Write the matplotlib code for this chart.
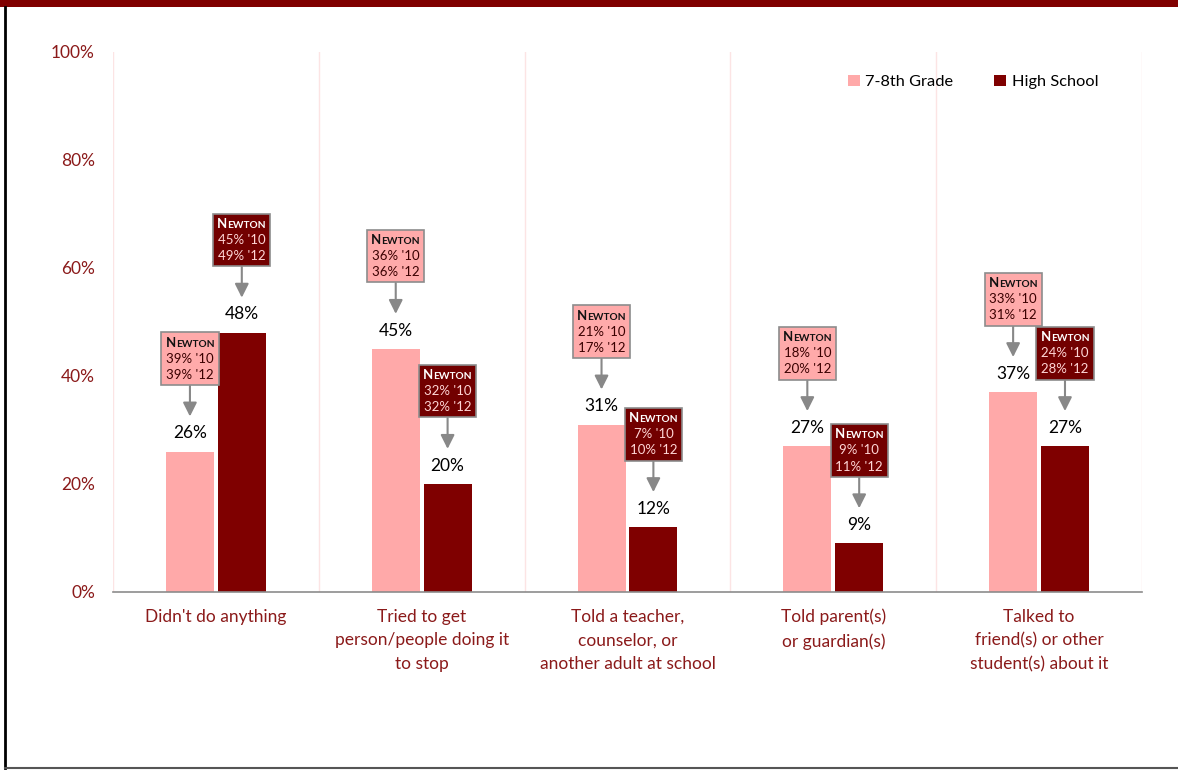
import matplotlib
matplotlib.use("Agg")
import numpy as np
import matplotlib.pyplot as plt
from matplotlib.patches import Patch, Rectangle
from matplotlib.lines import Line2D
from matplotlib.offsetbox import TextArea, HPacker, VPacker, AnnotationBbox

plt.rcParams['font.family'] = ['Lato', 'DejaVu Sans']

# Survey responses (% of students)
categories = [
    "Didn't do anything",
    "Tried to get\nperson/people doing it\nto stop",
    "Told a teacher,\ncounselor, or\nanother adult at school",
    "Told parent(s)\nor guardian(s)",
    "Talked to\nfriend(s) or other\nstudent(s) about it",
]
grade78 = [26, 45, 31, 27, 37]
high_school = [48, 20, 12, 9, 27]

# Newton comparison figures, 2010 and 2012
newton78_10 = [39, 36, 21, 18, 33]
newton78_12 = [39, 36, 17, 20, 31]
newtonhs_10 = [45, 32, 7, 9, 24]
newtonhs_12 = [49, 32, 10, 11, 28]

PINK = '#FFA9A9'
DARK = '#7F0000'
LABEL_RED = '#8B1A1A'

fig = plt.figure(figsize=(11.78, 7.70), dpi=100)
ax = fig.add_axes([0.0959, 0.2312, 0.8735, 0.7013])

x = np.arange(len(categories))
w = 0.233
off = 0.126
ax.bar(x - off, grade78, w, color=PINK, label='7-8th Grade', zorder=2)
ax.bar(x + off, high_school, w, color=DARK, label='High School', zorder=2)

# value labels above bars
for xi, v in zip(x - off, grade78):
    ax.text(xi, v + 3.4, f"{v}%", ha='center', va='center', fontsize=12.5, color='black')
for xi, v in zip(x + off, high_school):
    ax.text(xi, v + 3.4, f"{v}%", ha='center', va='center', fontsize=12.5, color='black')


def newton_box(xc, v, y10, y12, dark):
    head_col = 'white' if dark else '#111111'
    num_col = '#FFD6D6' if dark else '#3A0000'
    face = '#720000' if dark else '#FFAAAA'
    title = HPacker(children=[
        TextArea("N", textprops=dict(fontsize=9.5, fontweight='bold', color=head_col)),
        TextArea("EWTON", textprops=dict(fontsize=7.3, fontweight='bold', color=head_col)),
    ], align='baseline', pad=0, sep=0)
    l1 = TextArea(f"{y10}% '10", textprops=dict(fontsize=9.5, color=num_col))
    l2 = TextArea(f"{y12}% '12", textprops=dict(fontsize=9.5, color=num_col))
    body = VPacker(children=[title, l1, l2], align='center', pad=0, sep=3)
    ab = AnnotationBbox(body, (xc, v + 6.5), xybox=(xc, v + 17.2),
                        xycoords='data', boxcoords='data', pad=0.42,
                        bboxprops=dict(facecolor=face, edgecolor='#8C8C8C', lw=1.2,
                                       boxstyle='square'),
                        arrowprops=dict(arrowstyle='-|>,head_length=0.6,head_width=0.3',
                                        color='#888888', lw=1.5, shrinkA=0, shrinkB=0),
                        zorder=4)
    ax.add_artist(ab)


for i in range(len(categories)):
    newton_box(x[i] - off, grade78[i], newton78_10[i], newton78_12[i], False)
    newton_box(x[i] + off, high_school[i], newtonhs_10[i], newtonhs_12[i], True)

# light separators between categories
for b in np.arange(-0.5, len(categories), 1.0):
    ax.plot([b, b], [0, 100], color='#FCE4E4', lw=1, zorder=1)

ax.set_xlim(-0.5, len(categories) - 0.5)
ax.set_ylim(0, 100)
ax.set_yticks(range(0, 101, 20))
ax.set_yticklabels([f"{t}%" for t in range(0, 101, 20)])
ax.set_xticks(x)
ax.set_xticklabels(categories, linespacing=1.6)
ax.tick_params(axis='y', length=0, pad=13, labelsize=12.5, labelcolor=LABEL_RED)
ax.tick_params(axis='x', length=0, pad=12, labelsize=12.5, labelcolor=LABEL_RED)
for s in ['top', 'right', 'left']:
    ax.spines[s].set_visible(False)
ax.spines['bottom'].set_color('#8C8C8C')
ax.spines['bottom'].set_linewidth(1.2)

handles = [Patch(facecolor=PINK, label='7-8th Grade'), Patch(facecolor=DARK, label='High School')]
ax.legend(handles=handles, loc='center', bbox_to_anchor=(0.836, 0.944), ncol=2, frameon=False,
          fontsize=11.8, handlelength=0.7, handleheight=0.7, handletextpad=0.35,
          columnspacing=2.5)

# page frame: top band, left and bottom rules
fig.add_artist(Rectangle((0, 1 - 7 / 770), 1, 7 / 770, transform=fig.transFigure,
                         facecolor='#800000', edgecolor='none'))
fig.add_artist(Line2D([5 / 1178, 5 / 1178], [2 / 770, 1 - 7 / 770], transform=fig.transFigure,
                      color='black', lw=2))
fig.add_artist(Line2D([5 / 1178, 1], [2 / 770, 2 / 770], transform=fig.transFigure,
                      color='#555555', lw=1.5))

fig.savefig('out.png', dpi=100, facecolor='white')
